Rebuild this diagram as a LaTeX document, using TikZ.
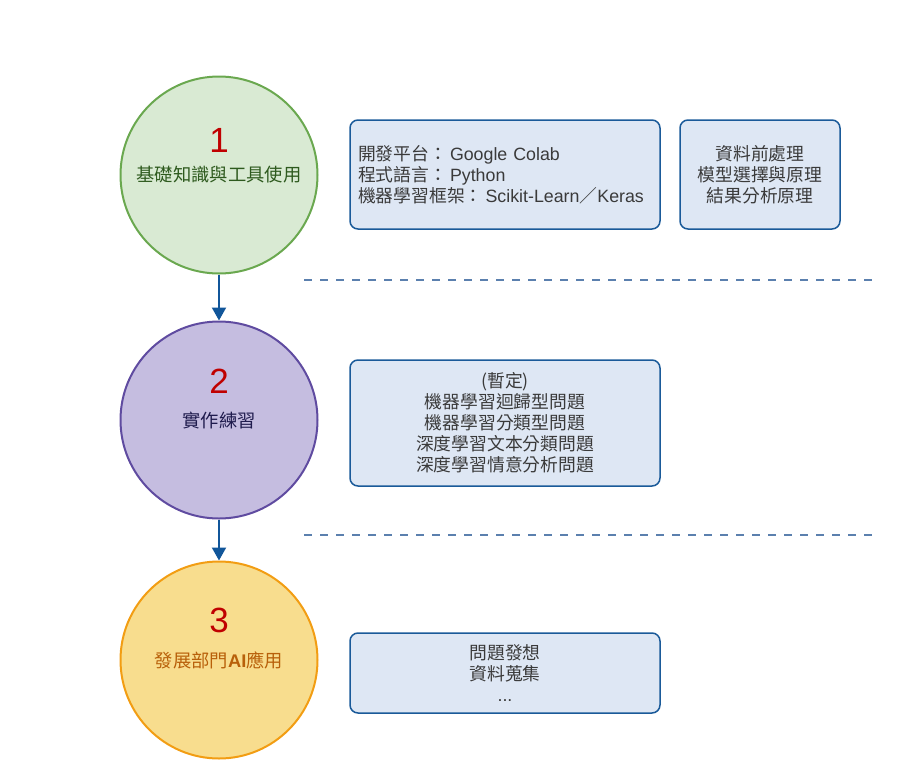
\documentclass[tikz,border=0pt]{standalone}
\usepackage{fontspec}
\setmainfont{Liberation Sans}
\newfontfamily\zhfont{Noto Sans CJK TC}
\newcommand{\zh}[1]{{\zhfont #1}}
\usepackage{tikz}
\usetikzlibrary{arrows.meta,positioning}
\usepackage{xcolor}
\definecolor{greenfill}{HTML}{D9EAD3}
\definecolor{greenline}{HTML}{6AA84F}
\definecolor{greentext}{HTML}{2E5A1E}
\definecolor{purplefill}{HTML}{C5BDE0}
\definecolor{purpleline}{HTML}{5F4BA0}
\definecolor{purpletext}{HTML}{1F1B4D}
\definecolor{yellowfill}{HTML}{F8DD8E}
\definecolor{yellowline}{HTML}{F29D13}
\definecolor{yellowtext}{HTML}{B8600A}
\definecolor{numred}{HTML}{C00000}
\definecolor{boxfill}{HTML}{DEE7F4}
\definecolor{boxline}{HTML}{1A5A99}
\definecolor{boxtext}{HTML}{3A3A3A}
\definecolor{arrowcol}{HTML}{11569A}
\definecolor{dashcol}{HTML}{5B80AE}
\tikzset{flow/.style={line width=2pt,->,>={Triangle[width=14pt,length=13pt]},color=arrowcol}}

\begin{document}
\begin{tikzpicture}[x=1pt, y=-1pt,
    stage/.style={circle, minimum size=197pt, inner sep=0pt, line width=2pt},
    num/.style={text=numred, font=\fontsize{35}{40}\selectfont},
    stagetext/.style={font=\zhfont\fontsize{18.3}{22}\selectfont},
    topic/.style={draw=boxline, fill=boxfill, rounded corners=8pt, line width=1.5pt,
        text=boxtext, inner xsep=8pt, font=\fontsize{17.8}{21}\selectfont},
    sep/.style={dashcol, line width=2pt, dash pattern=on 8pt off 8pt}]
\useasboundingbox (0,0) rectangle (903,780);

% Stages
\node[stage, draw=greenline, fill=greenfill] (c1) at (219,175) {};
\node[stage, draw=purpleline, fill=purplefill] (c2) at (219,420) {};
\node[stage, draw=yellowline, fill=yellowfill] (c3) at (219,660) {};

% Stage numbers and titles
\node[num] (n1) at (219,140) {1};
\node[num] (n2) at (219,381) {2};
\node[num] (n3) at (219,620) {3};
\node[stagetext, text=greentext] (t1) at (219,175) {基礎知識與工具使用};
\node[stagetext, text=purpletext] (t2) at (219,420) {實作練習};
\node[stagetext, text=yellowtext] (t3) at (219,660) {發展部門{\rmfamily\bfseries AI}應用};

% Flow
\draw[flow] (c1) -- (c2);
\draw[flow] (c2) -- (c3);

% Separators
\coordinate (s1a) at (304,280);
\coordinate (s1b) at (873,280);
\coordinate (s2a) at (304,535);
\coordinate (s2b) at (873,535);
\draw[sep] (s1a) -- (s1b);
\draw[sep] (s2a) -- (s2b);

% Topics
\node[topic, text width=294pt, align=left, minimum height=109pt] (tools) at (505,174.5)
    {\zh{開發平台：}\hspace{3pt}Google Colab\\\zh{程式語言：}\hspace{3pt}Python\\\zh{機器學習框架：}\hspace{3pt}Scikit-Learn\zh{／}Keras};
\node[topic, align=center, minimum width=160pt, minimum height=109pt, font=\zhfont\fontsize{17.8}{21}\selectfont] (theory) at (760,174.5)
    {資料前處理\\模型選擇與原理\\結果分析原理};
\node[topic, align=center, minimum width=310pt, minimum height=126pt, font=\zhfont\fontsize{17.8}{21}\selectfont] (practice) at (505,423)
    {(暫定)\\機器學習迴歸型問題\\機器學習分類型問題\\深度學習文本分類問題\\深度學習情意分析問題};
\node[topic, align=center, minimum width=310pt, minimum height=80pt, font=\zhfont\fontsize{17.8}{21}\selectfont] (apply) at (505,673)
    {問題發想\\資料蒐集\\{\rmfamily ...}};
\end{tikzpicture}
\end{document}
